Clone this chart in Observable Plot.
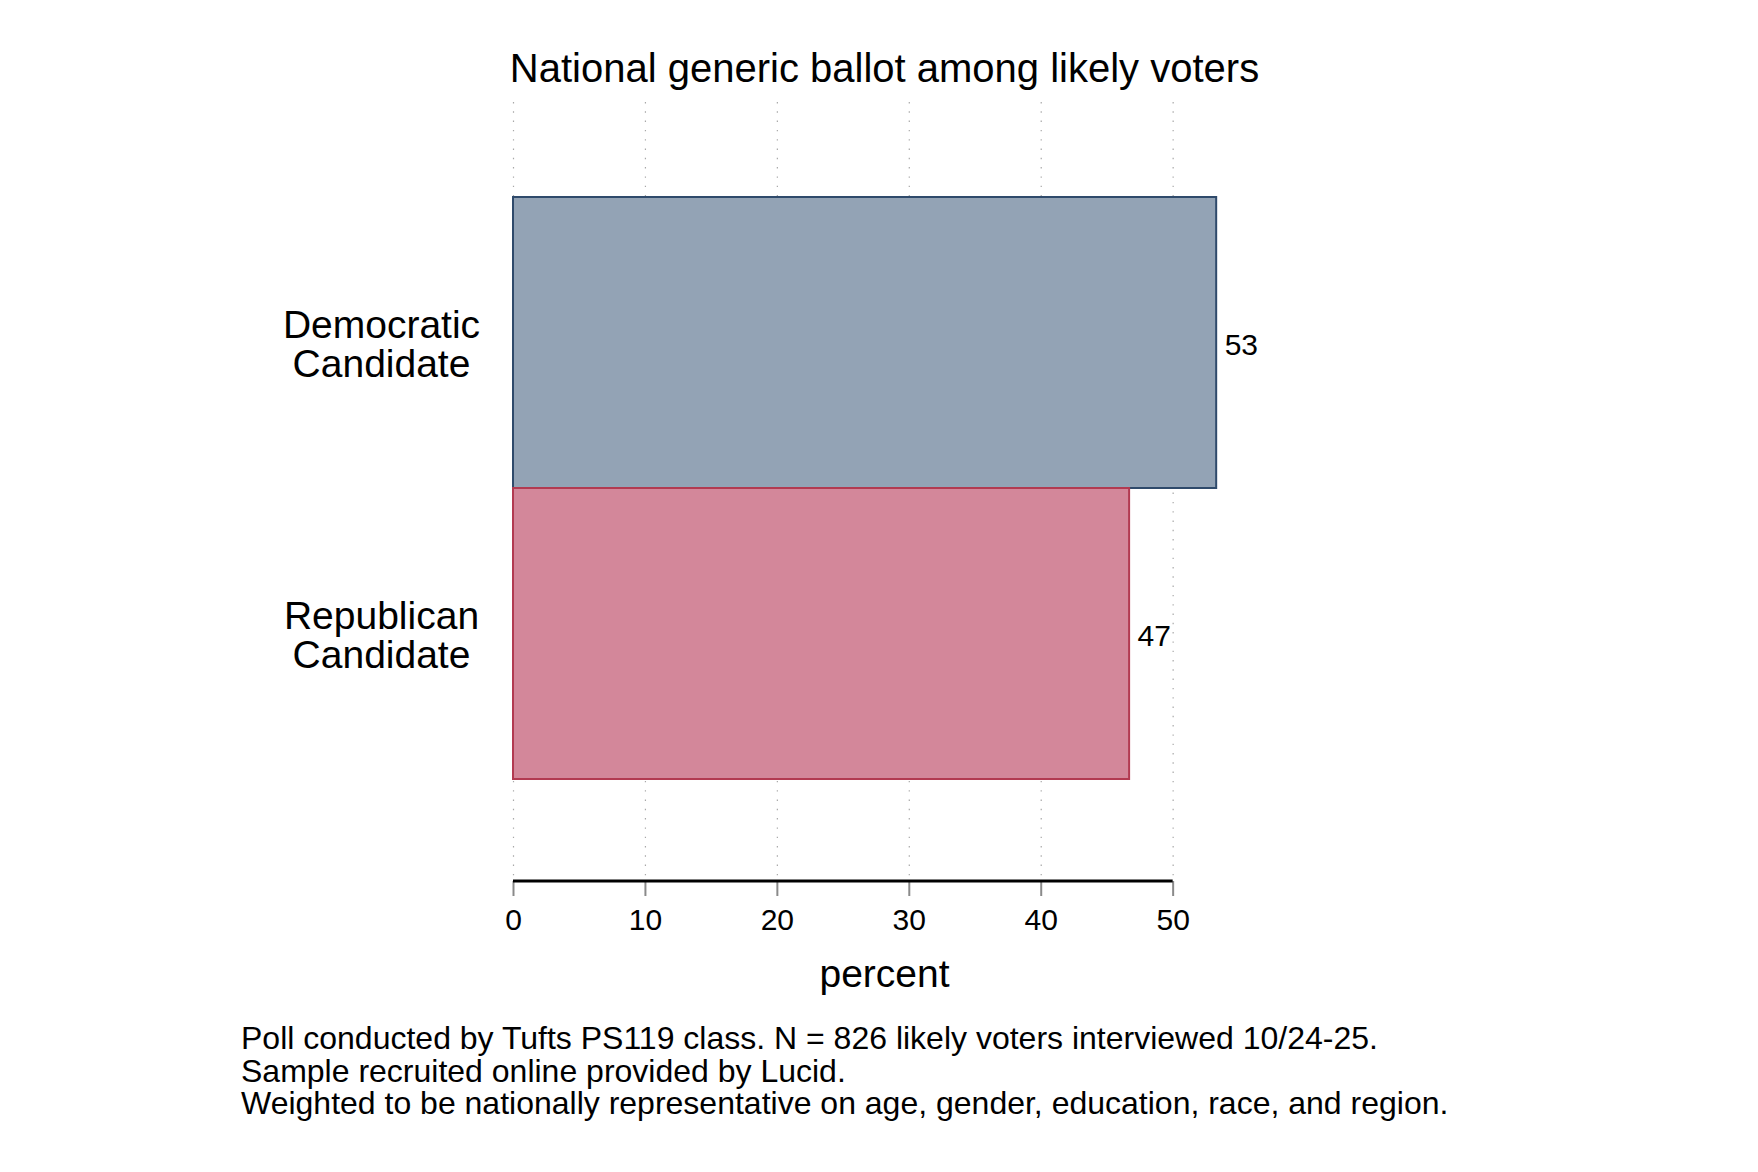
<!DOCTYPE html>
<html>
<head>
<meta charset="utf-8">
<script src="https://cdn.jsdelivr.net/npm/d3@7"></script>
<script src="https://cdn.jsdelivr.net/npm/@observablehq/plot@0.6"></script>
<style>
  html, body { margin: 0; padding: 0; background: #fff; }
  body { width: 1758px; height: 1172px; position: relative; overflow: hidden; font-family: "Liberation Sans", Arial, Helvetica, sans-serif; }
  #title { position: absolute; left: 0; width: 1769px; top: 44px; text-align: center; font-size: 40px; line-height: 48px; color: #000; white-space: nowrap; }
  #chart { position: absolute; left: 0; top: 0; }
  #caption { position: absolute; left: 241px; top: 1022px; font-size: 32px; line-height: 32.6px; color: #000; white-space: nowrap; }
  #caption div { margin: 0; }
</style>
</head>
<body>
<div id="title">National generic ballot among likely voters</div>
<div id="chart"></div>
<div id="caption"></div>
<script>
// ---- data ----
const categories = ["Democratic\nCandidate", "Republican\nCandidate"];
const percents = [53.3, 46.7];
const valueLabels = ["53", "47"];
const xTicks = [0, 10, 20, 30, 40, 50];
const xLabel = "percent";
const captionLines = [
  "Poll conducted by Tufts PS119 class. N = 826 likely voters interviewed 10/24-25.",
  "Sample recruited online provided by Lucid.",
  "Weighted to be nationally representative on age, gender, education, race, and region."
];
const fills = ["#93a3b5", "#d3879a"];
const strokes = ["#2f4a6b", "#b23a51"];

const data = categories.map((c, i) => ({cat: c, pct: percents[i], lab: valueLabels[i], fill: fills[i], stroke: strokes[i]}));

const FONT = '"Liberation Sans", Arial, Helvetica, sans-serif';

// axis baseline spanning the tick range, drawn through Plot's own x scale
function axisLine(index, scales, values, dims) {
  const g = d3.create("svg:line")
    .attr("x1", scales.x(d3.min(xTicks)))
    .attr("x2", scales.x(d3.max(xTicks)))
    .attr("y1", dims.height - dims.marginBottom)
    .attr("y2", dims.height - dims.marginBottom)
    .attr("stroke", "#000")
    .attr("stroke-width", 2.8);
  return g.node();
}

const plot = Plot.plot({
  width: 1758,
  height: 1000,
  marginLeft: 513,
  marginRight: 493,
  marginTop: 102,
  marginBottom: 119,
  style: {fontFamily: FONT, background: "transparent", color: "#000", overflow: "visible"},
  x: {domain: [0, 57], axis: null},
  y: {domain: categories, axis: null, paddingInner: 0, paddingOuter: 0.335, align: 0.48},
  marks: [
    Plot.gridX(xTicks, {stroke: "#a8a8a8", strokeOpacity: 1, strokeWidth: 1.2, strokeDasharray: "1.4 7.9"}),
    Plot.barX(data, {x: "pct", y: "cat", fill: "fill", stroke: "stroke", strokeWidth: 2}),
    Plot.text(data, {x: "pct", y: "cat", text: "lab", dx: 8, dy: 2, textAnchor: "start", fontSize: 30, fill: "#000"}),
    Plot.text(data, {y: "cat", text: "cat", frameAnchor: "left", dx: -132, dy: 2.5, textAnchor: "middle", fontSize: 39, lineHeight: 1.0, fill: "#000"}),
    Plot.axisX(xTicks, {tickSize: 15, tickPadding: 12, stroke: "#8a8a8a", strokeWidth: 2, fill: "#000", fontSize: 30, label: null, tickFormat: d3.format("d")}),
    axisLine,
    Plot.text([xLabel], {frameAnchor: "bottom", dx: -5, dy: 105, text: d => d, fontSize: 39, fill: "#000"})
  ]
});
document.getElementById("chart").appendChild(plot);

const cap = document.getElementById("caption");
captionLines.forEach(t => { const d = document.createElement("div"); d.textContent = t; cap.appendChild(d); });
</script>
</body>
</html>
